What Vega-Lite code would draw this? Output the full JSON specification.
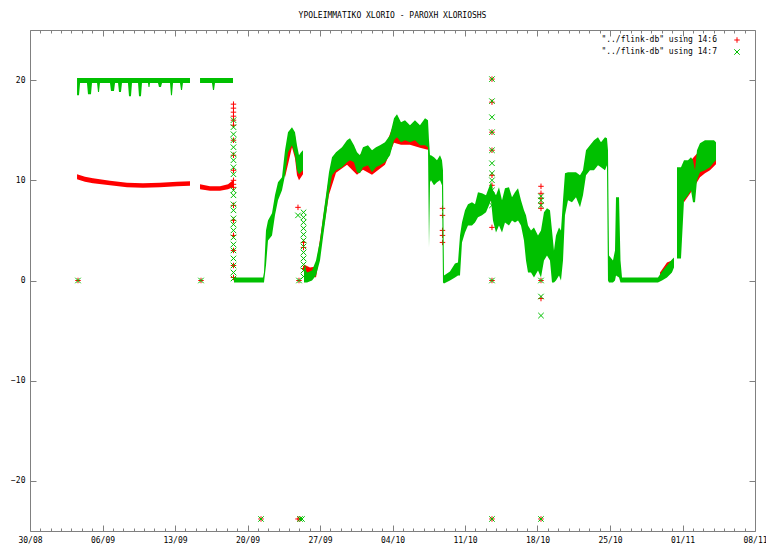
{
"$schema":"https://vega.github.io/schema/vega-lite/v6.json",
"width":725,"height":501,
"autosize":{"type":"none"},
"padding":{"left":30,"top":30,"right":11,"bottom":15},
"title":{"text":"YPOLEIMMATIKO XLORIO - PAROXH XLORIOSHS","font":"DejaVu Sans Mono","fontSize":8,"fontWeight":"normal","color":"#000","offset":10},
"config":{
 "view":{"stroke":"#808080","strokeWidth":1},
 "axis":{"domain":false,"grid":false,"labelFont":"DejaVu Sans Mono","labelFontSize":8,"labelColor":"#000","tickColor":"#808080","tickWidth":1},
 "legend":{"labelFont":"DejaVu Sans Mono","labelFontSize":8,"labelColor":"#000"}
},
"datasets":{
"band":[
{"s":"14:6","seg":"rA","t":"2008-09-03T13:00","lo":10.1,"hi":10.6},
{"s":"14:6","seg":"rA","t":"2008-09-04T07:25","lo":9.85,"hi":10.35},
{"s":"14:6","seg":"rA","t":"2008-09-05T02:00","lo":9.7,"hi":10.2},
{"s":"14:6","seg":"rA","t":"2008-09-06T17:20","lo":9.5,"hi":9.95},
{"s":"14:6","seg":"rA","t":"2008-09-08T08:50","lo":9.3,"hi":9.75},
{"s":"14:6","seg":"rA","t":"2008-09-09T21:50","lo":9.25,"hi":9.7},
{"s":"14:6","seg":"rA","t":"2008-09-11T13:10","lo":9.3,"hi":9.75},
{"s":"14:6","seg":"rA","t":"2008-09-13T04:35","lo":9.4,"hi":9.85},
{"s":"14:6","seg":"rA","t":"2008-09-14T10:45","lo":9.45,"hi":9.9},
{"s":"14:6","seg":"rB","t":"2008-09-15T10:00","lo":9.1,"hi":9.6},
{"s":"14:6","seg":"rB","t":"2008-09-16T09:05","lo":8.95,"hi":9.4},
{"s":"14:6","seg":"rB","t":"2008-09-17T08:20","lo":8.95,"hi":9.4},
{"s":"14:6","seg":"rB","t":"2008-09-18T02:50","lo":9.1,"hi":9.6},
{"s":"14:6","seg":"rB","t":"2008-09-18T14:25","lo":9.3,"hi":10.0},
{"s":"14:6","seg":"rC","t":"2008-09-23T14:55","lo":10.3,"hi":12.5},
{"s":"14:6","seg":"rC","t":"2008-09-24T07:05","lo":13.3,"hi":15.0},
{"s":"14:6","seg":"rC","t":"2008-09-24T14:05","lo":12.2,"hi":14.5},
{"s":"14:6","seg":"rC","t":"2008-09-24T18:40","lo":10.5,"hi":13.0},
{"s":"14:6","seg":"rC","t":"2008-09-24T23:20","lo":10.0,"hi":12.0},
{"s":"14:6","seg":"rC","t":"2008-09-25T04:00","lo":10.3,"hi":12.5},
{"s":"14:6","seg":"rC","t":"2008-09-25T08:35","lo":10.6,"hi":12.8},
{"s":"14:6","seg":"rD","t":"2008-09-25T10:55","lo":0.6,"hi":1.6},
{"s":"14:6","seg":"rD","t":"2008-09-26T00:50","lo":0.6,"hi":1.3},
{"s":"14:6","seg":"rD","t":"2008-09-26T14:45","lo":0.3,"hi":1.4},
{"s":"14:6","seg":"rD","t":"2008-09-27T20:50","lo":8.55,"hi":10.3},
{"s":"14:6","seg":"rD","t":"2008-09-28T13:05","lo":10.75,"hi":12.3},
{"s":"14:6","seg":"rD","t":"2008-09-29T14:35","lo":11.55,"hi":13.5},
{"s":"14:6","seg":"rD","t":"2008-09-30T13:45","lo":10.55,"hi":12.3},
{"s":"14:6","seg":"rD","t":"2008-10-01T03:35","lo":11.05,"hi":12.8},
{"s":"14:6","seg":"rD","t":"2008-10-02T00:30","lo":10.55,"hi":12.5},
{"s":"14:6","seg":"rD","t":"2008-10-03T06:35","lo":11.55,"hi":13.3},
{"s":"14:6","seg":"rD","t":"2008-10-04T03:30","lo":13.75,"hi":15.7},
{"s":"14:6","seg":"rD","t":"2008-10-04T19:40","lo":13.55,"hi":15.3},
{"s":"14:6","seg":"rD","t":"2008-10-05T16:30","lo":13.55,"hi":15.0},
{"s":"14:6","seg":"rD","t":"2008-10-06T15:40","lo":13.25,"hi":15.0},
{"s":"14:6","seg":"rD","t":"2008-10-07T10:15","lo":13.05,"hi":15.5},
{"s":"14:6","seg":"rI","t":"2008-10-29T19:50","lo":0.2,"hi":0.8},
{"s":"14:6","seg":"rI","t":"2008-10-30T12:05","lo":0.9,"hi":1.8},
{"s":"14:6","seg":"rI","t":"2008-10-30T23:35","lo":1.2,"hi":2.0},
{"s":"14:6","seg":"rI","t":"2008-10-31T04:15","lo":1.4,"hi":2.2},
{"s":"14:6","seg":"rJ","t":"2008-11-01T03:30","lo":7.8,"hi":11.5},
{"s":"14:6","seg":"rJ","t":"2008-11-01T19:40","lo":8.8,"hi":12.0},
{"s":"14:6","seg":"rJ","t":"2008-11-02T16:30","lo":10.3,"hi":13.0},
{"s":"14:6","seg":"rJ","t":"2008-11-03T04:05","lo":10.7,"hi":13.0},
{"s":"14:6","seg":"rJ","t":"2008-11-03T15:40","lo":11.0,"hi":13.5},
{"s":"14:6","seg":"rJ","t":"2008-11-04T05:35","lo":11.6,"hi":13.5},
{"s":"14:7","seg":"gA","t":"2008-09-03T13:00","lo":18.5,"hi":20.2},
{"s":"14:7","seg":"gA","t":"2008-09-03T17:30","lo":18.5,"hi":20.2},
{"s":"14:7","seg":"gA","t":"2008-09-03T20:00","lo":19.7,"hi":20.2},
{"s":"14:7","seg":"gA","t":"2008-09-04T12:00","lo":19.7,"hi":20.2},
{"s":"14:7","seg":"gA","t":"2008-09-04T14:25","lo":18.6,"hi":20.2},
{"s":"14:7","seg":"gA","t":"2008-09-04T21:20","lo":18.6,"hi":20.2},
{"s":"14:7","seg":"gA","t":"2008-09-04T23:40","lo":19.7,"hi":20.2},
{"s":"14:7","seg":"gA","t":"2008-09-05T11:20","lo":19.7,"hi":20.2},
{"s":"14:7","seg":"gA","t":"2008-09-05T13:35","lo":18.8,"hi":20.2},
{"s":"14:7","seg":"gA","t":"2008-09-05T15:55","lo":18.8,"hi":20.2},
{"s":"14:7","seg":"gA","t":"2008-09-05T18:10","lo":19.7,"hi":20.2},
{"s":"14:7","seg":"gA","t":"2008-09-06T17:20","lo":19.7,"hi":20.2},
{"s":"14:7","seg":"gA","t":"2008-09-06T19:40","lo":18.9,"hi":20.2},
{"s":"14:7","seg":"gA","t":"2008-09-07T02:40","lo":18.9,"hi":20.2},
{"s":"14:7","seg":"gA","t":"2008-09-07T05:00","lo":19.7,"hi":20.2},
{"s":"14:7","seg":"gA","t":"2008-09-07T12:00","lo":19.7,"hi":20.2},
{"s":"14:7","seg":"gA","t":"2008-09-07T14:15","lo":18.8,"hi":20.2},
{"s":"14:7","seg":"gA","t":"2008-09-07T18:50","lo":18.8,"hi":20.2},
{"s":"14:7","seg":"gA","t":"2008-09-07T21:10","lo":19.7,"hi":20.2},
{"s":"14:7","seg":"gA","t":"2008-09-08T11:00","lo":19.7,"hi":20.2},
{"s":"14:7","seg":"gA","t":"2008-09-08T13:25","lo":18.4,"hi":20.2},
{"s":"14:7","seg":"gA","t":"2008-09-08T18:00","lo":18.4,"hi":20.2},
{"s":"14:7","seg":"gA","t":"2008-09-08T20:20","lo":19.7,"hi":20.2},
{"s":"14:7","seg":"gA","t":"2008-09-09T10:20","lo":19.7,"hi":20.2},
{"s":"14:7","seg":"gA","t":"2008-09-09T12:35","lo":18.4,"hi":20.2},
{"s":"14:7","seg":"gA","t":"2008-09-09T17:10","lo":18.4,"hi":20.2},
{"s":"14:7","seg":"gA","t":"2008-09-09T19:30","lo":19.7,"hi":20.2},
{"s":"14:7","seg":"gA","t":"2008-09-10T09:25","lo":19.7,"hi":20.2},
{"s":"14:7","seg":"gA","t":"2008-09-10T10:35","lo":19.3,"hi":20.2},
{"s":"14:7","seg":"gA","t":"2008-09-10T12:55","lo":19.3,"hi":20.2},
{"s":"14:7","seg":"gA","t":"2008-09-10T14:05","lo":19.7,"hi":20.2},
{"s":"14:7","seg":"gA","t":"2008-09-11T08:35","lo":19.7,"hi":20.2},
{"s":"14:7","seg":"gA","t":"2008-09-11T10:55","lo":19.3,"hi":20.2},
{"s":"14:7","seg":"gA","t":"2008-09-11T15:30","lo":19.3,"hi":20.2},
{"s":"14:7","seg":"gA","t":"2008-09-11T17:55","lo":19.7,"hi":20.2},
{"s":"14:7","seg":"gA","t":"2008-09-12T12:25","lo":19.7,"hi":20.2},
{"s":"14:7","seg":"gA","t":"2008-09-12T14:40","lo":18.5,"hi":20.2},
{"s":"14:7","seg":"gA","t":"2008-09-12T17:00","lo":18.5,"hi":20.2},
{"s":"14:7","seg":"gA","t":"2008-09-12T19:25","lo":19.7,"hi":20.2},
{"s":"14:7","seg":"gA","t":"2008-09-13T11:35","lo":19.7,"hi":20.2},
{"s":"14:7","seg":"gA","t":"2008-09-13T13:55","lo":19.0,"hi":20.2},
{"s":"14:7","seg":"gA","t":"2008-09-13T16:15","lo":19.0,"hi":20.2},
{"s":"14:7","seg":"gA","t":"2008-09-13T18:30","lo":19.7,"hi":20.2},
{"s":"14:7","seg":"gA","t":"2008-09-14T10:45","lo":19.7,"hi":20.2},
{"s":"14:7","seg":"gB","t":"2008-09-15T10:00","lo":19.7,"hi":20.2},
{"s":"14:7","seg":"gB","t":"2008-09-16T13:40","lo":19.7,"hi":20.2},
{"s":"14:7","seg":"gB","t":"2008-09-16T16:00","lo":19.0,"hi":20.2},
{"s":"14:7","seg":"gB","t":"2008-09-16T18:25","lo":19.0,"hi":20.2},
{"s":"14:7","seg":"gB","t":"2008-09-16T20:40","lo":19.7,"hi":20.2},
{"s":"14:7","seg":"gB","t":"2008-09-18T14:25","lo":19.7,"hi":20.2},
{"s":"14:7","seg":"gC","t":"2008-09-18T16:40","lo":-0.2,"hi":0.3},
{"s":"14:7","seg":"gC","t":"2008-09-21T12:00","lo":-0.2,"hi":0.3},
{"s":"14:7","seg":"gC","t":"2008-09-21T14:10","lo":-0.2,"hi":0.8},
{"s":"14:7","seg":"gC","t":"2008-09-21T18:50","lo":1.5,"hi":5.0},
{"s":"14:7","seg":"gC","t":"2008-09-21T23:30","lo":4.0,"hi":6.0},
{"s":"14:7","seg":"gC","t":"2008-09-22T08:45","lo":4.5,"hi":6.7},
{"s":"14:7","seg":"gC","t":"2008-09-22T15:40","lo":6.5,"hi":8.5},
{"s":"14:7","seg":"gC","t":"2008-09-22T22:40","lo":8.0,"hi":9.8},
{"s":"14:7","seg":"gC","t":"2008-09-23T07:55","lo":9.0,"hi":10.3},
{"s":"14:7","seg":"gC","t":"2008-09-23T14:55","lo":10.5,"hi":13.0},
{"s":"14:7","seg":"gC","t":"2008-09-23T21:50","lo":12.8,"hi":14.8},
{"s":"14:7","seg":"gC","t":"2008-09-24T07:05","lo":13.5,"hi":15.3},
{"s":"14:7","seg":"gC","t":"2008-09-24T14:05","lo":12.5,"hi":14.8},
{"s":"14:7","seg":"gC","t":"2008-09-24T18:40","lo":11.0,"hi":13.5},
{"s":"14:7","seg":"gC","t":"2008-09-24T23:20","lo":10.6,"hi":12.5},
{"s":"14:7","seg":"gC","t":"2008-09-25T04:00","lo":10.8,"hi":12.8},
{"s":"14:7","seg":"gC","t":"2008-09-25T08:35","lo":11.0,"hi":13.0},
{"s":"14:7","seg":"gD","t":"2008-09-25T10:55","lo":-0.2,"hi":1.5},
{"s":"14:7","seg":"gD","t":"2008-09-25T17:55","lo":-0.2,"hi":0.8},
{"s":"14:7","seg":"gD","t":"2008-09-26T05:30","lo":0.0,"hi":1.0},
{"s":"14:7","seg":"gD","t":"2008-09-26T14:45","lo":0.5,"hi":2.0},
{"s":"14:7","seg":"gD","t":"2008-09-27T00:00","lo":2.0,"hi":4.0},
{"s":"14:7","seg":"gD","t":"2008-09-27T06:55","lo":4.3,"hi":6.3},
{"s":"14:7","seg":"gD","t":"2008-09-27T13:55","lo":6.5,"hi":8.5},
{"s":"14:7","seg":"gD","t":"2008-09-27T20:50","lo":8.8,"hi":10.8},
{"s":"14:7","seg":"gD","t":"2008-09-28T03:50","lo":10.5,"hi":12.3},
{"s":"14:7","seg":"gD","t":"2008-09-28T13:05","lo":11.0,"hi":12.8},
{"s":"14:7","seg":"gD","t":"2008-09-29T03:00","lo":11.3,"hi":13.3},
{"s":"14:7","seg":"gD","t":"2008-09-29T14:35","lo":11.8,"hi":14.0},
{"s":"14:7","seg":"gD","t":"2008-09-29T21:30","lo":12.0,"hi":14.2},
{"s":"14:7","seg":"gD","t":"2008-09-30T06:45","lo":11.8,"hi":13.5},
{"s":"14:7","seg":"gD","t":"2008-09-30T13:45","lo":10.8,"hi":12.8},
{"s":"14:7","seg":"gD","t":"2008-09-30T20:40","lo":10.7,"hi":12.5},
{"s":"14:7","seg":"gD","t":"2008-10-01T03:35","lo":11.3,"hi":13.3},
{"s":"14:7","seg":"gD","t":"2008-10-01T15:10","lo":11.5,"hi":13.5},
{"s":"14:7","seg":"gD","t":"2008-10-02T00:30","lo":10.8,"hi":13.0},
{"s":"14:7","seg":"gD","t":"2008-10-02T09:45","lo":11.3,"hi":13.3},
{"s":"14:7","seg":"gD","t":"2008-10-02T19:00","lo":11.5,"hi":13.5},
{"s":"14:7","seg":"gD","t":"2008-10-03T06:35","lo":11.8,"hi":13.8},
{"s":"14:7","seg":"gD","t":"2008-10-03T18:10","lo":12.5,"hi":14.5},
{"s":"14:7","seg":"gD","t":"2008-10-04T03:30","lo":14.0,"hi":16.2},
{"s":"14:7","seg":"gD","t":"2008-10-04T10:25","lo":14.3,"hi":16.6},
{"s":"14:7","seg":"gD","t":"2008-10-04T19:40","lo":13.8,"hi":15.8},
{"s":"14:7","seg":"gD","t":"2008-10-05T05:00","lo":14.0,"hi":16.0},
{"s":"14:7","seg":"gD","t":"2008-10-05T16:30","lo":13.8,"hi":15.5},
{"s":"14:7","seg":"gD","t":"2008-10-06T04:05","lo":14.0,"hi":16.0},
{"s":"14:7","seg":"gD","t":"2008-10-06T15:40","lo":13.5,"hi":15.5},
{"s":"14:7","seg":"gD","t":"2008-10-07T03:20","lo":13.5,"hi":16.2},
{"s":"14:7","seg":"gD","t":"2008-10-07T10:15","lo":13.3,"hi":16.0},
{"s":"14:7","seg":"gD","t":"2008-10-07T12:35","lo":3.3,"hi":14.0},
{"s":"14:7","seg":"gD","t":"2008-10-07T14:55","lo":9.8,"hi":12.5},
{"s":"14:7","seg":"gD","t":"2008-10-07T17:10","lo":10.0,"hi":12.5},
{"s":"14:7","seg":"gD","t":"2008-10-08T00:10","lo":9.5,"hi":12.3},
{"s":"14:7","seg":"gD","t":"2008-10-08T07:05","lo":9.8,"hi":12.0},
{"s":"14:7","seg":"gD","t":"2008-10-08T14:05","lo":10.0,"hi":12.5},
{"s":"14:7","seg":"gD","t":"2008-10-08T18:40","lo":9.5,"hi":12.0},
{"s":"14:7","seg":"gD","t":"2008-10-08T21:00","lo":-0.2,"hi":11.0},
{"s":"14:7","seg":"gD","t":"2008-10-08T23:20","lo":-0.3,"hi":0.5},
{"s":"14:7","seg":"gD","t":"2008-10-09T13:10","lo":0.0,"hi":0.9},
{"s":"14:7","seg":"gD","t":"2008-10-10T00:50","lo":0.3,"hi":1.7},
{"s":"14:7","seg":"gD","t":"2008-10-10T07:45","lo":0.5,"hi":1.8},
{"s":"14:7","seg":"gD","t":"2008-10-10T12:25","lo":0.5,"hi":4.5},
{"s":"14:7","seg":"gD","t":"2008-10-10T17:00","lo":3.8,"hi":5.8},
{"s":"14:7","seg":"gD","t":"2008-10-11T00:00","lo":4.8,"hi":7.0},
{"s":"14:7","seg":"gD","t":"2008-10-11T06:55","lo":5.5,"hi":7.6},
{"s":"14:7","seg":"gD","t":"2008-10-11T16:10","lo":5.5,"hi":7.8},
{"s":"14:7","seg":"gD","t":"2008-10-11T23:10","lo":5.8,"hi":7.6},
{"s":"14:7","seg":"gD","t":"2008-10-12T06:05","lo":6.3,"hi":8.8},
{"s":"14:7","seg":"gD","t":"2008-10-12T15:25","lo":6.5,"hi":8.7},
{"s":"14:7","seg":"gD","t":"2008-10-13T00:40","lo":6.8,"hi":8.5},
{"s":"14:7","seg":"gD","t":"2008-10-13T07:35","lo":7.5,"hi":9.3},
{"s":"14:7","seg":"gD","t":"2008-10-13T12:15","lo":8.0,"hi":9.8},
{"s":"14:7","seg":"gD","t":"2008-10-13T16:50","lo":6.0,"hi":9.0},
{"s":"14:7","seg":"gD","t":"2008-10-13T23:50","lo":4.8,"hi":8.5},
{"s":"14:7","seg":"gD","t":"2008-10-14T06:45","lo":5.5,"hi":9.3},
{"s":"14:7","seg":"gD","t":"2008-10-14T13:45","lo":4.8,"hi":8.0},
{"s":"14:7","seg":"gD","t":"2008-10-14T20:40","lo":5.8,"hi":9.2},
{"s":"14:7","seg":"gD","t":"2008-10-15T05:55","lo":5.5,"hi":9.3},
{"s":"14:7","seg":"gD","t":"2008-10-15T12:55","lo":6.0,"hi":8.3},
{"s":"14:7","seg":"gD","t":"2008-10-15T19:50","lo":5.8,"hi":8.8},
{"s":"14:7","seg":"gD","t":"2008-10-16T02:50","lo":6.0,"hi":9.2},
{"s":"14:7","seg":"gD","t":"2008-10-16T09:45","lo":5.5,"hi":8.0},
{"s":"14:7","seg":"gD","t":"2008-10-16T16:40","lo":4.0,"hi":7.0},
{"s":"14:7","seg":"gD","t":"2008-10-16T21:20","lo":2.0,"hi":6.5},
{"s":"14:7","seg":"gD","t":"2008-10-17T02:00","lo":0.8,"hi":5.5},
{"s":"14:7","seg":"gD","t":"2008-10-17T08:55","lo":0.8,"hi":5.0},
{"s":"14:7","seg":"gD","t":"2008-10-17T15:50","lo":0.3,"hi":5.3},
{"s":"14:7","seg":"gD","t":"2008-10-18T01:10","lo":1.0,"hi":4.5},
{"s":"14:7","seg":"gD","t":"2008-10-18T08:05","lo":0.3,"hi":5.0},
{"s":"14:7","seg":"gD","t":"2008-10-18T15:00","lo":2.0,"hi":6.8},
{"s":"14:7","seg":"gD","t":"2008-10-18T22:00","lo":2.5,"hi":7.2},
{"s":"14:7","seg":"gD","t":"2008-10-19T04:55","lo":2.0,"hi":7.0},
{"s":"14:7","seg":"gD","t":"2008-10-19T09:35","lo":-0.2,"hi":5.0},
{"s":"14:7","seg":"gD","t":"2008-10-19T14:10","lo":-0.2,"hi":3.0},
{"s":"14:7","seg":"gD","t":"2008-10-19T18:50","lo":0.0,"hi":4.5},
{"s":"14:7","seg":"gD","t":"2008-10-20T01:50","lo":0.5,"hi":5.3},
{"s":"14:7","seg":"gD","t":"2008-10-20T06:25","lo":0.0,"hi":5.0},
{"s":"14:7","seg":"gD","t":"2008-10-20T11:05","lo":2.0,"hi":8.0},
{"s":"14:7","seg":"gD","t":"2008-10-20T15:40","lo":6.5,"hi":10.7},
{"s":"14:7","seg":"gD","t":"2008-10-20T22:40","lo":8.0,"hi":10.8},
{"s":"14:7","seg":"gD","t":"2008-10-21T07:55","lo":7.8,"hi":10.8},
{"s":"14:7","seg":"gD","t":"2008-10-21T17:10","lo":8.3,"hi":10.8},
{"s":"14:7","seg":"gD","t":"2008-10-22T02:30","lo":7.3,"hi":10.5},
{"s":"14:7","seg":"gD","t":"2008-10-22T09:25","lo":8.5,"hi":11.0},
{"s":"14:7","seg":"gD","t":"2008-10-22T16:25","lo":10.5,"hi":13.0},
{"s":"14:7","seg":"gD","t":"2008-10-23T01:35","lo":11.0,"hi":13.5},
{"s":"14:7","seg":"gD","t":"2008-10-23T10:55","lo":11.0,"hi":14.0},
{"s":"14:7","seg":"gD","t":"2008-10-23T20:10","lo":11.5,"hi":14.3},
{"s":"14:7","seg":"gD","t":"2008-10-24T03:05","lo":11.3,"hi":13.8},
{"s":"14:7","seg":"gD","t":"2008-10-24T12:25","lo":11.0,"hi":14.3},
{"s":"14:7","seg":"gD","t":"2008-10-24T17:00","lo":11.5,"hi":14.2},
{"s":"14:7","seg":"gD","t":"2008-10-24T19:20","lo":0.0,"hi":13.0},
{"s":"14:7","seg":"gD","t":"2008-10-24T21:40","lo":-0.2,"hi":2.5},
{"s":"14:7","seg":"gD","t":"2008-10-25T06:55","lo":-0.2,"hi":2.0},
{"s":"14:7","seg":"gD","t":"2008-10-25T11:35","lo":0.0,"hi":3.0},
{"s":"14:7","seg":"gD","t":"2008-10-25T13:55","lo":0.5,"hi":8.3},
{"s":"14:7","seg":"gD","t":"2008-10-25T20:55","lo":0.3,"hi":8.3},
{"s":"14:7","seg":"gD","t":"2008-10-26T00:20","lo":-0.2,"hi":2.0},
{"s":"14:7","seg":"gD","t":"2008-10-26T03:50","lo":-0.2,"hi":0.3},
{"s":"14:7","seg":"gD","t":"2008-10-29T15:10","lo":-0.2,"hi":0.3},
{"s":"14:7","seg":"gD","t":"2008-10-30T00:30","lo":0.0,"hi":0.9},
{"s":"14:7","seg":"gD","t":"2008-10-30T12:05","lo":0.3,"hi":1.5},
{"s":"14:7","seg":"gD","t":"2008-10-30T23:35","lo":0.8,"hi":2.1},
{"s":"14:7","seg":"gD","t":"2008-10-31T04:15","lo":1.3,"hi":2.3},
{"s":"14:7","seg":"gJ","t":"2008-10-31T11:15","lo":2.2,"hi":11.3},
{"s":"14:7","seg":"gJ","t":"2008-10-31T20:30","lo":2.2,"hi":11.3},
{"s":"14:7","seg":"gJ","t":"2008-11-01T03:30","lo":8.0,"hi":12.0},
{"s":"14:7","seg":"gJ","t":"2008-11-01T12:45","lo":8.5,"hi":12.0},
{"s":"14:7","seg":"gJ","t":"2008-11-01T19:40","lo":9.0,"hi":12.3},
{"s":"14:7","seg":"gJ","t":"2008-11-02T00:20","lo":7.8,"hi":12.0},
{"s":"14:7","seg":"gJ","t":"2008-11-02T05:00","lo":7.8,"hi":11.0},
{"s":"14:7","seg":"gJ","t":"2008-11-02T09:35","lo":10.0,"hi":13.0},
{"s":"14:7","seg":"gJ","t":"2008-11-02T16:30","lo":10.8,"hi":13.7},
{"s":"14:7","seg":"gJ","t":"2008-11-03T04:05","lo":11.0,"hi":14.0},
{"s":"14:7","seg":"gJ","t":"2008-11-03T15:40","lo":11.3,"hi":14.0},
{"s":"14:7","seg":"gJ","t":"2008-11-04T01:00","lo":11.8,"hi":14.0},
{"s":"14:7","seg":"gJ","t":"2008-11-04T05:35","lo":12.0,"hi":13.8}
],
"pts":[
{"s":"14:6","t":"2008-09-03T15:15","v":0},
{"s":"14:6","t":"2008-09-15T12:15","v":0},
{"s":"14:6","t":"2008-09-18T15:30","v":17.6},
{"s":"14:6","t":"2008-09-18T15:30","v":17.2},
{"s":"14:6","t":"2008-09-18T15:30","v":16.8},
{"s":"14:6","t":"2008-09-18T15:30","v":16.4},
{"s":"14:6","t":"2008-09-18T15:30","v":16.0},
{"s":"14:6","t":"2008-09-18T15:30","v":15.5},
{"s":"14:6","t":"2008-09-18T15:30","v":14.0},
{"s":"14:6","t":"2008-09-18T15:30","v":12.5},
{"s":"14:6","t":"2008-09-18T15:30","v":11.0},
{"s":"14:6","t":"2008-09-18T15:30","v":10.0},
{"s":"14:6","t":"2008-09-18T15:30","v":9.6},
{"s":"14:6","t":"2008-09-18T15:30","v":9.3},
{"s":"14:6","t":"2008-09-18T15:30","v":7.5},
{"s":"14:6","t":"2008-09-18T15:30","v":6.0},
{"s":"14:6","t":"2008-09-18T15:30","v":4.5},
{"s":"14:6","t":"2008-09-18T15:30","v":3.0},
{"s":"14:6","t":"2008-09-18T15:30","v":1.5},
{"s":"14:6","t":"2008-09-18T15:30","v":0.3},
{"s":"14:6","t":"2008-09-21T07:20","v":-23.8},
{"s":"14:6","t":"2008-09-24T21:00","v":-23.8},
{"s":"14:6","t":"2008-09-24T21:00","v":7.3},
{"s":"14:6","t":"2008-09-25T01:40","v":-23.8},
{"s":"14:6","t":"2008-09-24T23:20","v":0},
{"s":"14:6","t":"2008-09-25T09:50","v":3.8},
{"s":"14:6","t":"2008-09-25T09:50","v":3.3},
{"s":"14:6","t":"2008-09-25T09:50","v":1.2},
{"s":"14:6","t":"2008-10-08T19:50","v":7.2},
{"s":"14:6","t":"2008-10-08T19:50","v":6.5},
{"s":"14:6","t":"2008-10-08T19:50","v":5.0},
{"s":"14:6","t":"2008-10-08T19:50","v":4.5},
{"s":"14:6","t":"2008-10-08T19:50","v":3.8},
{"s":"14:6","t":"2008-10-13T14:30","v":20.1},
{"s":"14:6","t":"2008-10-13T14:30","v":17.8},
{"s":"14:6","t":"2008-10-13T14:30","v":14.8},
{"s":"14:6","t":"2008-10-13T14:30","v":13.0},
{"s":"14:6","t":"2008-10-13T14:30","v":10.5},
{"s":"14:6","t":"2008-10-13T14:30","v":9.5},
{"s":"14:6","t":"2008-10-13T14:30","v":8.0},
{"s":"14:6","t":"2008-10-13T14:30","v":5.3},
{"s":"14:6","t":"2008-10-13T14:30","v":0},
{"s":"14:6","t":"2008-10-13T14:30","v":-23.8},
{"s":"14:6","t":"2008-10-18T08:05","v":9.4},
{"s":"14:6","t":"2008-10-18T08:05","v":8.7},
{"s":"14:6","t":"2008-10-18T08:05","v":8.2},
{"s":"14:6","t":"2008-10-18T08:05","v":7.7},
{"s":"14:6","t":"2008-10-18T08:05","v":7.2},
{"s":"14:6","t":"2008-10-18T08:05","v":0},
{"s":"14:6","t":"2008-10-18T08:05","v":-1.8},
{"s":"14:6","t":"2008-10-18T08:05","v":-23.8},
{"s":"14:7","t":"2008-09-03T15:15","v":0},
{"s":"14:7","t":"2008-09-15T12:15","v":0},
{"s":"14:7","t":"2008-09-18T15:30","v":16.0},
{"s":"14:7","t":"2008-09-18T15:30","v":15.3},
{"s":"14:7","t":"2008-09-18T15:30","v":14.6},
{"s":"14:7","t":"2008-09-18T15:30","v":14.0},
{"s":"14:7","t":"2008-09-18T15:30","v":13.3},
{"s":"14:7","t":"2008-09-18T15:30","v":12.6},
{"s":"14:7","t":"2008-09-18T15:30","v":12.0},
{"s":"14:7","t":"2008-09-18T15:30","v":11.3},
{"s":"14:7","t":"2008-09-18T15:30","v":10.6},
{"s":"14:7","t":"2008-09-18T15:30","v":9.0},
{"s":"14:7","t":"2008-09-18T15:30","v":8.5},
{"s":"14:7","t":"2008-09-18T15:30","v":7.6},
{"s":"14:7","t":"2008-09-18T15:30","v":7.0},
{"s":"14:7","t":"2008-09-18T15:30","v":6.2},
{"s":"14:7","t":"2008-09-18T15:30","v":5.6},
{"s":"14:7","t":"2008-09-18T15:30","v":5.0},
{"s":"14:7","t":"2008-09-18T15:30","v":4.3},
{"s":"14:7","t":"2008-09-18T15:30","v":3.6},
{"s":"14:7","t":"2008-09-18T15:30","v":3.0},
{"s":"14:7","t":"2008-09-18T15:30","v":2.2},
{"s":"14:7","t":"2008-09-18T15:30","v":1.5},
{"s":"14:7","t":"2008-09-18T15:30","v":0.8},
{"s":"14:7","t":"2008-09-18T15:30","v":0.2},
{"s":"14:7","t":"2008-09-21T07:20","v":-23.8},
{"s":"14:7","t":"2008-09-25T01:40","v":-23.8},
{"s":"14:7","t":"2008-09-25T06:15","v":-23.8},
{"s":"14:7","t":"2008-09-24T21:00","v":6.5},
{"s":"14:7","t":"2008-09-24T23:20","v":0},
{"s":"14:7","t":"2008-09-25T09:50","v":6.8},
{"s":"14:7","t":"2008-09-25T09:50","v":6.3},
{"s":"14:7","t":"2008-09-25T09:50","v":5.8},
{"s":"14:7","t":"2008-09-25T09:50","v":5.2},
{"s":"14:7","t":"2008-09-25T09:50","v":4.6},
{"s":"14:7","t":"2008-09-25T09:50","v":4.0},
{"s":"14:7","t":"2008-09-25T09:50","v":3.4},
{"s":"14:7","t":"2008-09-25T09:50","v":2.8},
{"s":"14:7","t":"2008-09-25T09:50","v":2.2},
{"s":"14:7","t":"2008-09-25T09:50","v":1.6},
{"s":"14:7","t":"2008-09-25T09:50","v":1.0},
{"s":"14:7","t":"2008-09-25T09:50","v":0.4},
{"s":"14:7","t":"2008-10-13T14:30","v":20.1},
{"s":"14:7","t":"2008-10-13T14:30","v":17.9},
{"s":"14:7","t":"2008-10-13T14:30","v":16.3},
{"s":"14:7","t":"2008-10-13T14:30","v":14.8},
{"s":"14:7","t":"2008-10-13T14:30","v":13.0},
{"s":"14:7","t":"2008-10-13T14:30","v":11.7},
{"s":"14:7","t":"2008-10-13T14:30","v":10.7},
{"s":"14:7","t":"2008-10-13T14:30","v":10.0},
{"s":"14:7","t":"2008-10-13T14:30","v":9.0},
{"s":"14:7","t":"2008-10-13T14:30","v":7.5},
{"s":"14:7","t":"2008-10-13T14:30","v":0},
{"s":"14:7","t":"2008-10-13T14:30","v":-23.8},
{"s":"14:7","t":"2008-10-18T08:05","v":8.4},
{"s":"14:7","t":"2008-10-18T08:05","v":8.0},
{"s":"14:7","t":"2008-10-18T08:05","v":7.5},
{"s":"14:7","t":"2008-10-18T08:05","v":0},
{"s":"14:7","t":"2008-10-18T08:05","v":-1.6},
{"s":"14:7","t":"2008-10-18T08:05","v":-3.5},
{"s":"14:7","t":"2008-10-18T08:05","v":-23.8}
]
},
"layer":[
{
 "data":{"name":"band"},
 "transform":[{"filter":"datum.s == '14:6'"}],
 "mark":{"type":"area","color":"#ff0000","opacity":1},
 "encoding":{
  "x":{"field":"t","type":"temporal","scale":{"domain":[{"year":2008,"month":8,"date":30},{"year":2008,"month":11,"date":8}]},
   "axis":{"orient":"bottom","title":null,"tickCount":{"interval":"day","step":1},"labelExpr":"day(datum.value)==6 ? timeFormat(datum.value,'%d/%m') : ''","tickSize":{"condition":{"test":"day(datum.value)==6","value":-6},"value":-3},"labelPadding":11,"labelOverlap":false,"labelFlush":false,"labelBound":false}},
  "y":{"field":"lo","type":"quantitative","scale":{"domain":[-25,25],"nice":false,"zero":false},
   "axis":{"orient":"left","title":null,"values":[-20,-10,0,10,20],"tickSize":-6,"labelPadding":11}},
  "y2":{"field":"hi"},
  "detail":{"field":"seg"}
 }
},
{
 "data":{"name":"pts"},
 "transform":[{"filter":"datum.s == '14:6'"}],
 "mark":{"type":"point","filled":false,"strokeWidth":1,"size":30,"opacity":1},
 "encoding":{
  "x":{"field":"t","type":"temporal","axis":null},
  "y":{"field":"v","type":"quantitative","axis":null},
  "color":{"field":"s","type":"nominal","scale":{"domain":["14:6","14:7"],"range":["#ff0000","#00c000"]}},
  "shape":{"field":"s","type":"nominal","scale":{"domain":["14:6","14:7"],"range":["M-1,0H1M0,-1V1","M-1,-1L1,1M-1,1L1,-1"]}}
 }
},
{
 "data":{"name":"band"},
 "transform":[{"filter":"datum.s == '14:7'"}],
 "mark":{"type":"area","color":"#00c000","opacity":1},
 "encoding":{
  "x":{"field":"t","type":"temporal",
   "axis":{"orient":"top","title":null,"labels":false,"tickCount":{"interval":"day","step":1},"tickSize":{"condition":{"test":"day(datum.value)==6","value":-6},"value":-3}}},
  "y":{"field":"lo","type":"quantitative",
   "axis":{"orient":"right","title":null,"labels":false,"values":[-20,-10,0,10,20],"tickSize":-6}},
  "y2":{"field":"hi"},
  "detail":{"field":"seg"}
 }
},
{
 "data":{"name":"pts"},
 "transform":[{"filter":"datum.s == '14:7'"}],
 "mark":{"type":"point","filled":false,"strokeWidth":1,"size":30,"opacity":1},
 "encoding":{
  "x":{"field":"t","type":"temporal","axis":null},
  "y":{"field":"v","type":"quantitative","axis":null},
  "color":{"field":"s","type":"nominal","legend":{"orient":"none","legendX":703,"legendY":6,"title":null,"labelExpr":"'\"../flink-db\" using ' + datum.label","labelAlign":"right","labelOffset":-24,"rowPadding":2,"padding":0,"symbolStrokeWidth":1,"symbolSize":30}},
  "shape":{"field":"s","type":"nominal","legend":{"orient":"none","legendX":703,"legendY":6,"title":null,"labelExpr":"'\"../flink-db\" using ' + datum.label","labelAlign":"right","labelOffset":-24,"rowPadding":2,"padding":0,"symbolStrokeWidth":1,"symbolSize":30}}
 }
}
],
"resolve":{"axis":{"x":"independent","y":"independent"}}
}
